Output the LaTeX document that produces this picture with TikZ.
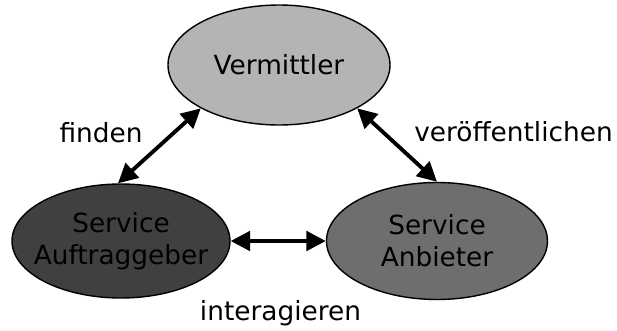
\documentclass[tikz,border=0pt]{standalone}
\usepackage{fontspec}
\setmainfont{DejaVu Sans}
\usetikzlibrary{shapes.geometric,arrows.meta}
\definecolor{vermgray}{HTML}{B4B4B4}
\definecolor{aufggray}{HTML}{404040}
\definecolor{anbgray}{HTML}{6E6E6E}
\begin{document}
\begin{tikzpicture}[
  rolle/.style={ellipse, draw, line width=0.8pt, inner sep=-0.7cm, align=center, font=\fontsize{15}{18.3}\selectfont},
  link/.style={{Triangle[length=3.9mm,width=3.9mm]}-{Triangle[length=3.9mm,width=3.9mm]}, line width=2.2pt},
  tag/.style={font=\fontsize{15}{18.3}\selectfont}]
\useasboundingbox (0,0) rectangle (12.34,6.6);
\node[rolle, fill=vermgray, minimum width=4.44cm, minimum height=2.4cm] (verm) at (5.58,5.3){Vermittler};
\node[rolle, fill=aufggray, minimum width=4.36cm, minimum height=2.28cm] (aufg) at (2.42,1.78){Service\\Auftraggeber};
\node[rolle, fill=anbgray, minimum width=4.42cm, minimum height=2.34cm] (anb) at (8.74,1.78){Service\\Anbieter};
\draw[link](aufg.93) -- (verm.209);
\draw[link](verm.331) -- (anb.north);
\draw[link](aufg.east) -- (anb.west);
\node[tag] (finden) at (2.02,3.94){finden};
\node[tag] (veroeff) at (10.27,3.96){veröffentlichen};
\node[tag] (interag) at (5.61,0.34){interagieren};
\end{tikzpicture}
\end{document}
